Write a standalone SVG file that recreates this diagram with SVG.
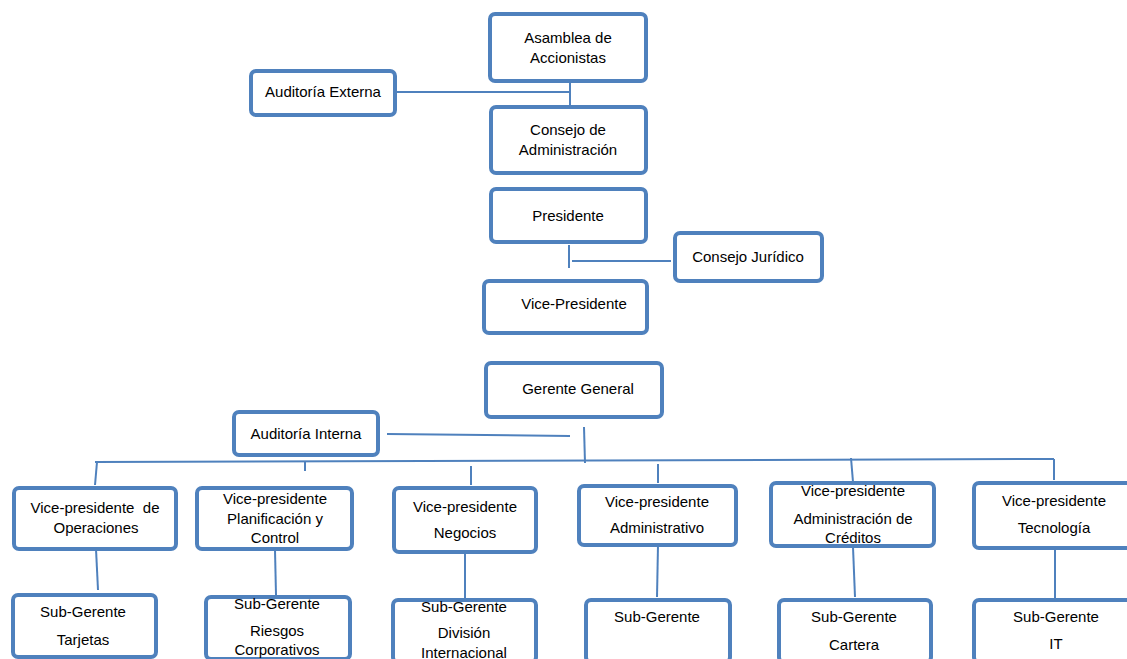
<svg xmlns="http://www.w3.org/2000/svg" width="1127" height="659" viewBox="0 0 1127 659">
<style>
.box{fill:#ffffff;stroke:#4f81bd;stroke-width:4;}
.t{font-family:"Liberation Sans",Arial,sans-serif;font-size:15px;fill:#000;text-anchor:middle;}
.c{stroke:#4f81bd;stroke-width:2;fill:none;}
</style>
<rect width="1127" height="659" fill="#ffffff"/>
<g id="connectors">
<line class="c" x1="396" y1="92" x2="570" y2="92"/>
<line class="c" x1="570" y1="83" x2="570" y2="105"/>
<line class="c" x1="569" y1="245" x2="569" y2="268"/>
<line class="c" x1="572" y1="261" x2="671" y2="261"/>
<line class="c" x1="387" y1="434" x2="570" y2="436"/>
<line class="c" x1="584" y1="427" x2="585" y2="463"/>
<line class="c" x1="95" y1="462" x2="1054" y2="459"/>
<line class="c" x1="97" y1="462" x2="95" y2="485"/>
<line class="c" x1="305" y1="462" x2="305" y2="471"/>
<line class="c" x1="471" y1="466" x2="471" y2="485"/>
<line class="c" x1="658" y1="464" x2="658" y2="483"/>
<line class="c" x1="851" y1="458" x2="853" y2="482"/>
<line class="c" x1="1054" y1="459" x2="1054" y2="480"/>
<line class="c" x1="96" y1="549" x2="98" y2="590"/>
<line class="c" x1="275" y1="550" x2="276" y2="595"/>
<line class="c" x1="465" y1="553" x2="465" y2="598"/>
<line class="c" x1="658" y1="545" x2="657" y2="597"/>
<line class="c" x1="853" y1="547" x2="855" y2="597"/>
<line class="c" x1="1055" y1="548" x2="1055" y2="598"/>
</g>
<g id="asamblea"><rect class="box" x="490" y="14" width="156" height="67" rx="5"/><text class="t" x="568" y="43">Asamblea de</text><text class="t" x="568" y="63">Accionistas</text></g>
<g id="auditoria-externa"><rect class="box" x="251" y="71" width="144" height="44" rx="5"/><text class="t" x="323" y="97">Auditoría Externa</text></g>
<g id="consejo-admin"><rect class="box" x="491" y="107" width="155" height="66" rx="5"/><text class="t" x="568" y="135">Consejo de</text><text class="t" x="568" y="155">Administración</text></g>
<g id="presidente"><rect class="box" x="491" y="189" width="155" height="53" rx="5"/><text class="t" x="568" y="221">Presidente</text></g>
<g id="consejo-juridico"><rect class="box" x="675" y="233" width="147" height="48" rx="5"/><text class="t" x="748" y="262">Consejo Jurídico</text></g>
<g id="vice-presidente"><rect class="box" x="484" y="281" width="163" height="52" rx="5"/><text class="t" x="574" y="309">Vice-Presidente</text></g>
<g id="gerente-general"><rect class="box" x="486" y="363" width="176" height="54" rx="5"/><text class="t" x="578" y="394">Gerente General</text></g>
<g id="auditoria-interna"><rect class="box" x="234" y="412" width="144" height="43" rx="5"/><text class="t" x="306" y="439">Auditoría Interna</text></g>
<g id="vp-operaciones"><rect class="box" x="14" y="488" width="162" height="61" rx="5"/><text class="t" x="95" y="513" xml:space="preserve">Vice-presidente  de</text><text class="t" x="96" y="533">Operaciones</text></g>
<g id="vp-planificacion"><rect class="box" x="197" y="488" width="155" height="61" rx="5"/><text class="t" x="275" y="504">Vice-presidente</text><text class="t" x="275" y="524">Planificación y</text><text class="t" x="275" y="543">Control</text></g>
<g id="vp-negocios"><rect class="box" x="394" y="488" width="142" height="64" rx="5"/><text class="t" x="465" y="512">Vice-presidente</text><text class="t" x="465" y="538">Negocios</text></g>
<g id="vp-administrativo"><rect class="box" x="579" y="486" width="157" height="59" rx="5"/><text class="t" x="657" y="507">Vice-presidente</text><text class="t" x="657" y="533">Administrativo</text></g>
<g id="vp-creditos"><rect class="box" x="771" y="483" width="163" height="63" rx="5"/><text class="t" x="853" y="496">Vice-presidente</text><text class="t" x="853" y="524">Administración de</text><text class="t" x="853" y="543">Créditos</text></g>
<g id="vp-tecnologia"><rect class="box" x="974" y="483" width="160" height="65" rx="5"/><text class="t" x="1054" y="506">Vice-presidente</text><text class="t" x="1054" y="533">Tecnología</text></g>
<g id="sg-tarjetas"><rect class="box" x="13" y="595" width="143" height="62" rx="5"/><text class="t" x="83" y="617">Sub-Gerente</text><text class="t" x="83" y="645">Tarjetas</text></g>
<g id="sg-riesgos"><rect class="box" x="206" y="597" width="144" height="62" rx="5"/><text class="t" x="277" y="609">Sub-Gerente</text><text class="t" x="277" y="636">Riesgos</text><text class="t" x="277" y="655">Corporativos</text></g>
<g id="sg-division"><rect class="box" x="393" y="600" width="143" height="62" rx="5"/><text class="t" x="464" y="612">Sub-Gerente</text><text class="t" x="464" y="638">División</text><text class="t" x="464" y="658">Internacional</text></g>
<g id="sg-admin"><rect class="box" x="586" y="600" width="144" height="62" rx="5"/><text class="t" x="657" y="622">Sub-Gerente</text></g>
<g id="sg-cartera"><rect class="box" x="779" y="600" width="152" height="62" rx="5"/><text class="t" x="854" y="622">Sub-Gerente</text><text class="t" x="854" y="650">Cartera</text></g>
<g id="sg-it"><rect class="box" x="974" y="600" width="160" height="62" rx="5"/><text class="t" x="1056" y="622">Sub-Gerente</text><text class="t" x="1056" y="649">IT</text></g>
</svg>
